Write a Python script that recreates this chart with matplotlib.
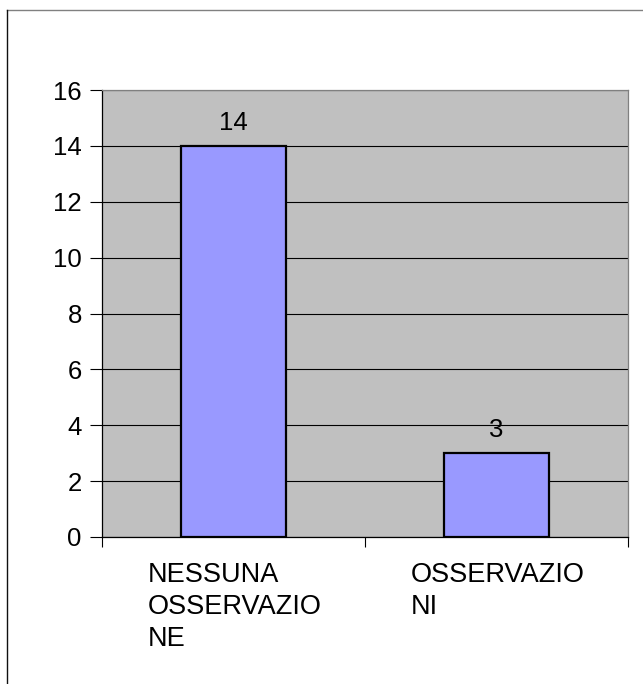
import matplotlib.pyplot as plt
from matplotlib.lines import Line2D

categories = ["NESSUNA\nOSSERVAZIO\nNE", "OSSERVAZIO\nNI"]
values = [14, 3]
yticks = [0, 2, 4, 6, 8, 10, 12, 14, 16]

plt.rcParams['font.family'] = ['Liberation Sans', 'DejaVu Sans']

fig = plt.figure(figsize=(6.43, 6.84), dpi=100)

# outer frame (only top and left visible in the original)
fig.add_artist(Line2D([7/643, 1], [1 - 10/684, 1 - 10/684], color='#808080', lw=1))
fig.add_artist(Line2D([7/643, 7/643], [0, 1 - 10/684], color='#101010', lw=1))

ax = fig.add_axes([102/643, 1 - 537/684, 526/643, 447/684])
ax.set_facecolor('#c0c0c0')

x = list(range(len(values)))
bars = ax.bar(x, values, width=0.4, color='#9999ff', edgecolor='black', linewidth=1.6, zorder=3)

ax.set_xlim(-0.5, len(values) - 0.5)
ax.set_ylim(0, 16)
ax.set_yticks(yticks)
ax.yaxis.grid(True, color='black', linewidth=0.8, zorder=0)
ax.set_axisbelow(True)
ax.tick_params(axis='y', length=8.5, width=0.8, labelsize=18.5, pad=6)

# category ticks sit at the boundaries
ax.set_xticks([i - 0.5 for i in range(len(values) + 1)])
ax.set_xticklabels([])
ax.tick_params(axis='x', length=7.5, width=0.8)

for s in ['left', 'bottom']:
    ax.spines[s].set_color('black')
    ax.spines[s].set_linewidth(0.9)
for s in ['top', 'right']:
    ax.spines[s].set_color('#808080')
    ax.spines[s].set_linewidth(0.9)

# value labels
for b, v in zip(bars, values):
    ax.annotate(str(v), (b.get_x() + b.get_width() / 2, v), xytext=(0, 8),
                textcoords='offset points', ha='center', va='bottom', fontsize=18.5)

# category labels, left aligned under each bar
for i, c in enumerate(categories):
    ax.text(i - 0.327, -0.055, c, transform=ax.get_xaxis_transform(),
            ha='left', va='top', fontsize=19.5, linespacing=1.32)

fig.savefig('out.png', dpi=100)
